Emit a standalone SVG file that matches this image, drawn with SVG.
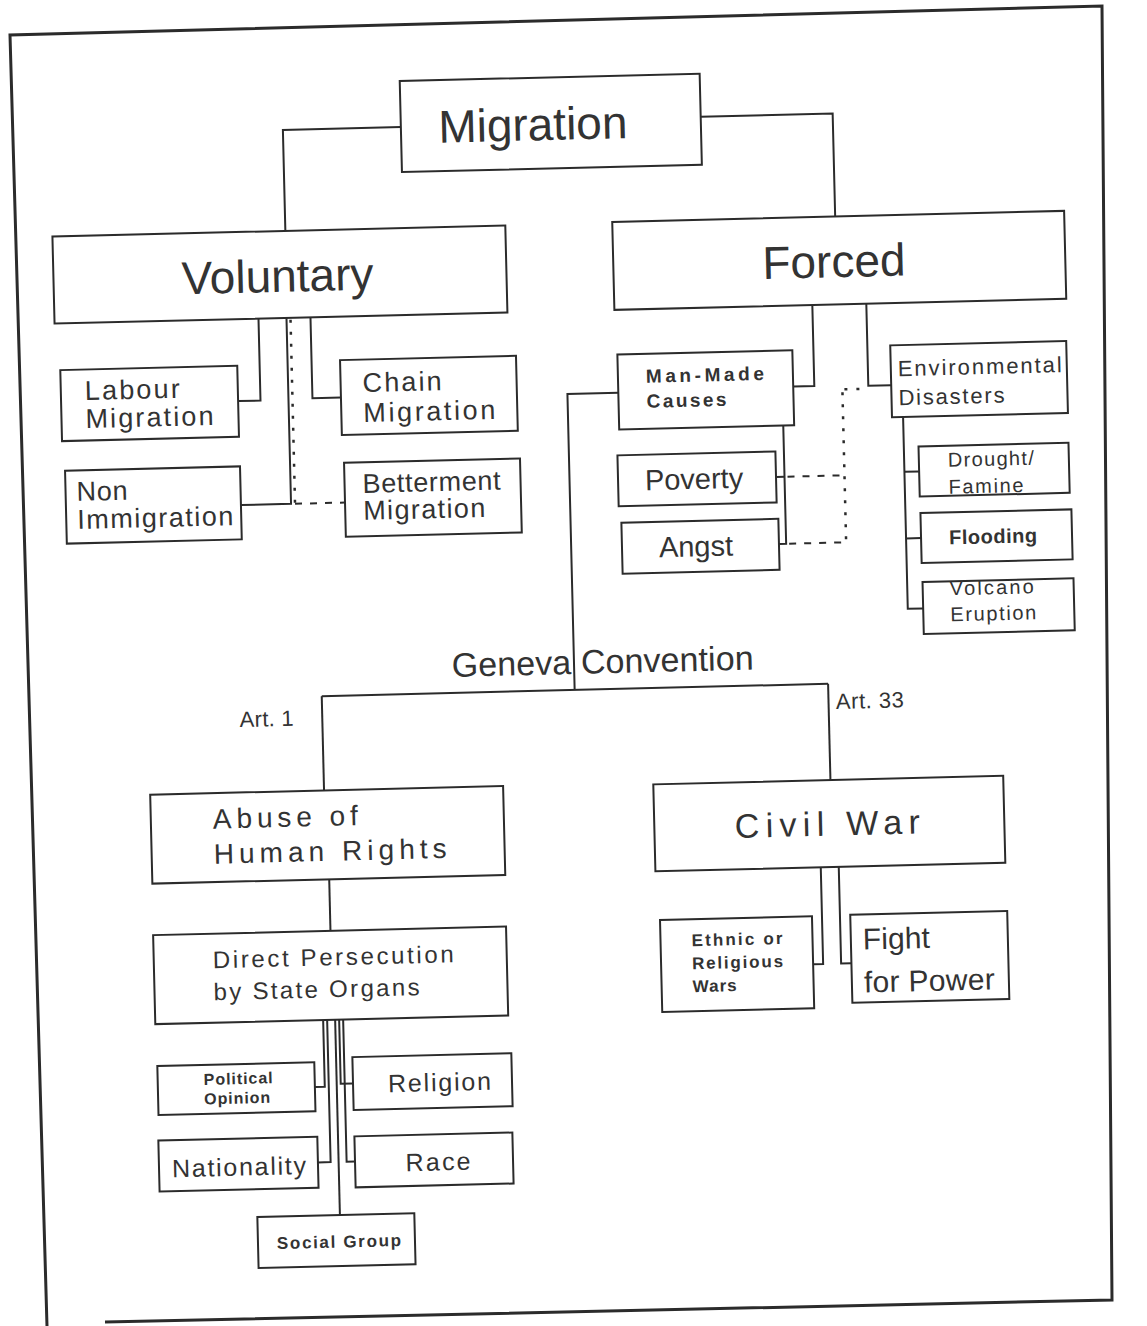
<svg xmlns="http://www.w3.org/2000/svg" width="1147" height="1326" viewBox="0 0 1147 1326">
<style>
.box{fill:#fff;stroke:#2b2b2b;stroke-width:2}
.ln{fill:none;stroke:#2b2b2b;stroke-width:2}
.dash{fill:none;stroke:#2b2b2b;stroke-width:2;stroke-dasharray:7 8}
.dot{fill:none;stroke:#2b2b2b;stroke-width:2.5;stroke-dasharray:3 9}
text{font-family:"Liberation Sans",Arial,sans-serif;fill:#333}
.big{font-size:46px}
.med{font-size:27px}
.sm{font-size:20px}
.b{font-weight:bold}
</style>
<rect width="1147" height="1326" fill="#fff"/>
<path d="M47,1326 L10,35 L1102,6 L1112,1300 L105,1322" fill="none" stroke="#2b2b2b" stroke-width="3"/>
<g transform="rotate(-1.4 573 663)">
<g id="connectors">
<path class="ln" d="M414,123 H296 V224"/>
<path class="ln" d="M714,120 H846 V223"/>
<path class="ln" d="M267,311 V393 H245"/>
<path class="ln" d="M319,311 V392 H347.5"/>
<path class="ln" d="M295,311 V497 H245"/>
<path class="dot" d="M299,313 V497"/>
<path class="dash" d="M299,497 H349"/>
<path class="ln" d="M821,311 V392 H800"/>
<path class="ln" d="M875,311 V393 H898"/>
<path class="ln" d="M789,431 V549 H782"/>
<path class="ln" d="M789,482 H780.5"/>
<path class="dash" d="M792,482 H849"/>
<path class="dash" d="M792,549 H849"/>
<path class="dot" d="M849,399 V549"/>
<path class="dot" d="M851,396 H875"/>
<path class="ln" d="M909,425 V617 H924.4"/>
<path class="ln" d="M909,480 H923.7"/>
<path class="ln" d="M909,546.6 H924"/>
<path class="ln" d="M625,394 H574 V690"/>
<path class="ln" d="M321,690 H827.5"/>
<path class="ln" d="M321,690 V784.3"/>
<path class="ln" d="M827.5,690 V786.3"/>
<path class="ln" d="M324,873.3 V924.8"/>
<path class="ln" d="M815.7,873.3 V970 H805.7"/>
<path class="ln" d="M833.7,873.3 V970 H844"/>
<path class="ln" d="M314.5,1013.8 V1080.5 H304.6"/>
<path class="ln" d="M318.5,1013.8 V1156 H305.8"/>
<path class="ln" d="M326.5,1013.8 V1209.2"/>
<path class="ln" d="M330.5,1013.8 V1078 H342.8"/>
<path class="ln" d="M334.5,1013.8 V1156 H342.9"/>
</g>
<g id="migration"><rect class="box" x="414" y="77" width="300" height="91"/><text class="big" x="546" y="139.5" text-anchor="middle">Migration</text></g>
<g id="voluntary"><rect class="box" x="63" y="224" width="453" height="87"/><text class="big" x="287" y="284.8" text-anchor="middle">Voluntary</text></g>
<g id="forced"><rect class="box" x="623" y="223" width="452" height="88"/><text class="big" x="843.6" y="283.7" text-anchor="middle">Forced</text></g>
<g id="labour"><rect class="box" x="67.6" y="357.7" width="177" height="71"/><text class="med" x="91.6" y="388.2" textLength="95">Labour</text><text class="med" x="91.6" y="416.2" textLength="128">Migration</text></g>
<g id="chain"><rect class="box" x="347.5" y="354.5" width="176" height="75"/><text class="med" x="369.5" y="387" textLength="79">Chain</text><text class="med" x="369.5" y="417" textLength="132">Migration</text></g>
<g id="non-immigration"><rect class="box" x="69.9" y="458.3" width="175" height="73"/><text class="med" x="80.9" y="488.8" textLength="51">Non</text><text class="med" x="80.9" y="516.8" textLength="156">Immigration</text></g>
<g id="betterment"><rect class="box" x="349" y="457.3" width="176" height="74"/><text class="med" x="367" y="487.8" textLength="138">Betterment</text><text class="med" x="367" y="514.8" textLength="122">Migration</text></g>
<g id="man-made"><rect class="box" x="624.9" y="355.7" width="175" height="75"/><text class="b" font-size="19" x="652.9" y="384.7" textLength="118">Man-Made</text><text class="b" font-size="19" x="652.9" y="409.7" textLength="80">Causes</text></g>
<g id="environmental"><rect class="box" x="897.9" y="353.2" width="176" height="72"/><text font-size="22" x="904.9" y="384.2" textLength="164">Environmental</text><text font-size="22" x="904.9" y="413.2" textLength="106">Disasters</text></g>
<g id="poverty"><rect class="box" x="622.5" y="456.5" width="158" height="51"/><text font-size="29" x="698.5" y="492" text-anchor="middle">Poverty</text></g>
<g id="angst"><rect class="box" x="624.8" y="523.9" width="157" height="51"/><text font-size="29" x="698.8" y="559.4" text-anchor="middle">Angst</text></g>
<g id="drought"><rect class="box" x="923.7" y="455" width="150" height="50"/><text class="sm" x="952.7" y="476" textLength="86">Drought/</text><text class="sm" x="952.7" y="503" textLength="75">Famine</text></g>
<g id="flooding"><rect class="box" x="924" y="521.6" width="151" height="50"/><text class="sm b" x="996" y="553.6" text-anchor="middle" textLength="88">Flooding</text></g>
<g id="volcano"><rect class="box" x="924.4" y="590.6" width="151" height="52"/><text class="sm" x="951.4" y="604.6" textLength="84">Volcano</text><text class="sm" x="951.4" y="630.6" textLength="86">Eruption</text></g>
<g id="geneva"><text font-size="34" x="451.7" y="674" textLength="302">Geneva Convention</text></g>
<g id="art1"><text font-size="22" x="238.4" y="718.9" textLength="54">Art. 1</text></g>
<g id="art33"><text font-size="22" x="834.9" y="715.4" textLength="68">Art. 33</text></g>
<g id="abuse"><rect class="box" x="147.1" y="784.3" width="353" height="89"/><text font-size="28" x="209.1" y="819.8" textLength="145">Abuse of</text><text font-size="28" x="209.1" y="854.8" textLength="233">Human Rights</text></g>
<g id="civil-war"><rect class="box" x="650.3" y="786.3" width="350" height="87"/><text font-size="34" x="823.3" y="841.8" text-anchor="middle" textLength="185">Civil War</text></g>
<g id="direct"><rect class="box" x="146.6" y="924.8" width="353" height="89"/><text font-size="24" x="205.6" y="959.3" textLength="241">Direct Persecution</text><text font-size="24" x="205.6" y="991.3" textLength="206">by State Organs</text></g>
<g id="ethnic"><rect class="box" x="653.7" y="922" width="152" height="92"/><text class="b" font-size="17" x="684.7" y="949" textLength="91">Ethnic or</text><text class="b" font-size="17" x="684.7" y="972" textLength="91">Religious</text><text class="b" font-size="17" x="684.7" y="995" textLength="44">Wars</text></g>
<g id="fight"><rect class="box" x="844" y="921.5" width="157" height="88"/><text font-size="30" x="856" y="956.5" textLength="67">Fight</text><text font-size="30" x="856" y="999.5" textLength="131">for Power</text></g>
<g id="political"><rect class="box" x="147.6" y="1055.8" width="157" height="49"/><text class="b" font-size="16" x="193.6" y="1075.8" textLength="69">Political</text><text class="b" font-size="16" x="193.6" y="1095.3" textLength="66">Opinion</text></g>
<g id="religion"><rect class="box" x="342.8" y="1051.6" width="159" height="53"/><text font-size="25" x="429.3" y="1087.6" text-anchor="middle" textLength="103">Religion</text></g>
<g id="nationality"><rect class="box" x="146.8" y="1130.3" width="159" height="51"/><text font-size="25" x="226.8" y="1167.3" text-anchor="middle" textLength="134">Nationality</text></g>
<g id="race"><rect class="box" x="342.9" y="1130.9" width="158" height="51"/><text font-size="25" x="425.9" y="1166.9" text-anchor="middle" textLength="65">Race</text></g>
<g id="social-group"><rect class="box" x="243.9" y="1209.2" width="157" height="51"/><text class="b" font-size="17" x="324.9" y="1241.7" text-anchor="middle" textLength="124">Social Group</text></g>
</g>
</svg>
